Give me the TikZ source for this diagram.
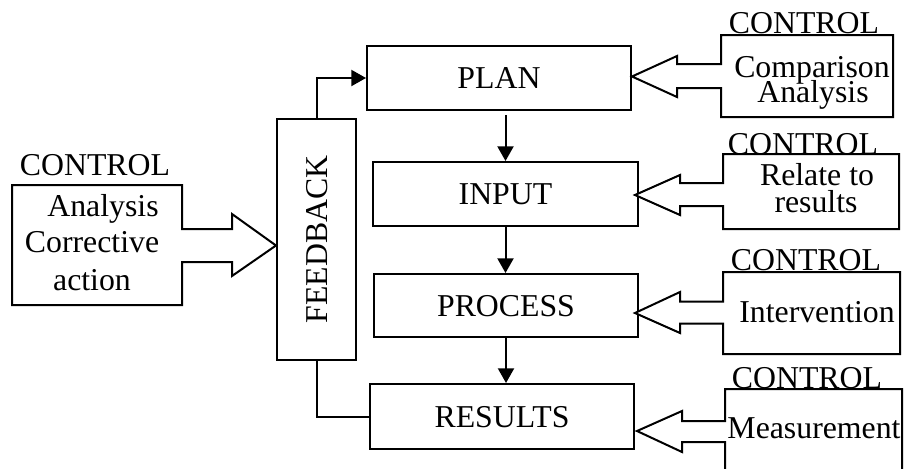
\documentclass[tikz,border=0pt]{standalone}
\usepackage{fontspec}
\setmainfont{Liberation Serif}
\usetikzlibrary{arrows.meta}
\newcommand\dgfont{\fontsize{23.85pt}{28pt}\selectfont}
\begin{document}
\begin{tikzpicture}[x=0.75pt,y=-0.75pt,line width=1.5pt,
  mainbox/.style={draw,inner sep=0pt,font=\dgfont,text height=15.8pt,text depth=0pt},
  lbl/.style={anchor=base,inner sep=0pt,font=\dgfont},
  ctrlshape/.style={draw,fill=white,line join=miter},
  arr/.style={-{Triangle[length=11pt,width=12pt]}}]
\clip (0,0) rectangle (905,468);
\fill[white] (0,0) rectangle (905,468);

% main column
\node[mainbox,minimum width=198pt,minimum height=48pt] (plan) at (499,78) {PLAN};
\node[mainbox,minimum width=198.75pt,minimum height=48pt] (input) at (505.5,194) {INPUT};
\node[mainbox,minimum width=198pt,minimum height=47.25pt] (process) at (506,305.5) {PROCESS};
\node[mainbox,minimum width=198pt,minimum height=48.75pt] (results) at (502,416.5) {RESULTS};
\node[draw,inner sep=0pt,minimum width=59.25pt,minimum height=180.75pt] (feedback) at (316.5,239.5) {};
\node[inner sep=0pt,font=\dgfont,text height=15.8pt,text depth=0pt,rotate=90] (fbtext) at (feedback.center) {FEEDBACK};

% flow arrows
\draw[arr,shorten <=3pt] (plan.south -| input.north) -- (input.north);
\draw[arr] (input.south) -- (input.south |- process.north);
\draw[arr] (process.south) -- (process.south |- results.north);
\draw[arr] (feedback.north) |- (plan.west);
\draw (feedback.south) |- (results.west);

% left control block arrow
\draw[ctrlshape] (182,229) -- (182,185) -- (12,185) -- (12,305) -- (182,305) -- (182,262)
  -- (232,262) -- (232,276) -- (276,245.5) -- (232,214) -- (232,229) -- cycle;
\node[lbl] (lctrl) at (95,175) {CONTROL};
\node[lbl] (lt1) at (103,216) {Analysis};
\node[lbl] (lt2) at (92,252) {Corrective};
\node[lbl] (lt3) at (92,290) {action};

% right control 1 (plan)
\draw[ctrlshape] (721,64) -- (721,35) -- (893,35) -- (893,117) -- (721,117) -- (721,88)
  -- (677,88) -- (677,97) -- (632,76.5) -- (677,56) -- (677,64) -- cycle;
\node[lbl] (c1) at (804,33) {CONTROL};
\node[lbl] (c1a) at (812,77) {Comparison};
\node[lbl] (c1b) at (813,102) {Analysis};

% right control 2 (input)
\draw[ctrlshape] (723,183) -- (723,154) -- (899,154) -- (899,229) -- (723,229) -- (723,206)
  -- (680,206) -- (680,215) -- (635,195) -- (680,175) -- (680,183) -- cycle;
\node[lbl] (c2) at (803,154) {CONTROL};
\node[lbl] (c2a) at (817,185) {Relate to};
\node[lbl] (c2b) at (816,212) {results};

% right control 3 (process)
\draw[ctrlshape] (723,301.5) -- (723,272) -- (900,272) -- (900,354) -- (723,354) -- (723,323.5)
  -- (680,323.5) -- (680,333) -- (635,313) -- (680,292) -- (680,301.5) -- cycle;
\node[lbl] (c3) at (806,270) {CONTROL};
\node[lbl] (c3a) at (817,322) {Intervention};

% right control 4 (results)
\draw[ctrlshape] (725,421) -- (725,389) -- (902,389) -- (902,500) -- (725,500) -- (725,442)
  -- (682,442) -- (682,452) -- (637,431) -- (682,411) -- (682,421) -- cycle;
\node[lbl] (c4) at (807,388) {CONTROL};
\node[lbl] (c4a) at (814,438) {Measurement};
\end{tikzpicture}
\end{document}
